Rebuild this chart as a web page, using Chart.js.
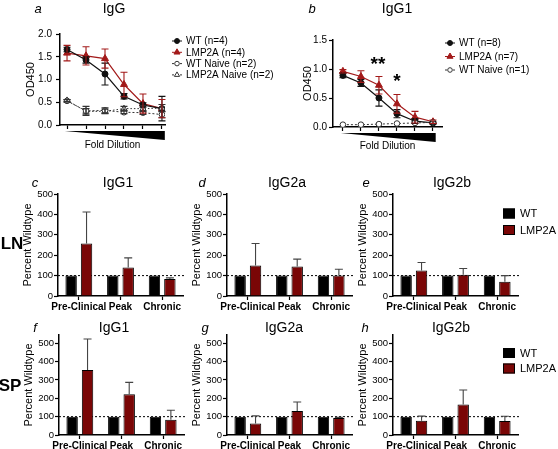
<!DOCTYPE html>
<html>
<head>
<meta charset="utf-8">
<script src="https://cdn.jsdelivr.net/npm/chart.js@4.4.1/dist/chart.umd.min.js"></script>
<style>
    body { margin: 0; background: #fff; font-family: "Liberation Sans", Arial, sans-serif; }
    #fig { position: relative; width: 558px; height: 449px; overflow: hidden; }
    #fig canvas { position: absolute; }
    .t { position: absolute; transform: translate(-50%, -50%); white-space: nowrap; color: #000; line-height: 1; }
    .letter { font-style: italic; font-size: 13px; }
    .title { font-size: 14px; }
    .tissue { font-weight: bold; font-size: 17px; }
    .star { font-size: 19px; font-weight: bold; }
</style>
</head>
<body>
<div id="fig">
    <canvas id="chart-a" width="290" height="155" style="left:0;top:0"></canvas>
    <canvas id="chart-b" width="278" height="155" style="left:280px;top:0"></canvas>
    <canvas id="chart-c" width="185" height="150" style="left:0;top:165px"></canvas>
    <canvas id="chart-d" width="185" height="150" style="left:169px;top:165px"></canvas>
    <canvas id="chart-e" width="223" height="150" style="left:335px;top:165px"></canvas>
    <canvas id="chart-f" width="185" height="134" style="left:1px;top:315px"></canvas>
    <canvas id="chart-g" width="185" height="134" style="left:169px;top:315px"></canvas>
    <canvas id="chart-h" width="223" height="134" style="left:335px;top:315px"></canvas>

    <div class="t letter" style="left:38px;top:8px">a</div>
    <div class="t title" style="left:114px;top:8px">IgG</div>
    <div class="t letter" style="left:312px;top:8px">b</div>
    <div class="t title" style="left:397px;top:8px">IgG1</div>
    <div class="t star" style="left:378px;top:63px">**</div>
    <div class="t star" style="left:397px;top:80px">*</div>

    <div class="t letter" style="left:35px;top:182px">c</div>
    <div class="t title" style="left:118px;top:182px">IgG1</div>
    <div class="t letter" style="left:202px;top:182px">d</div>
    <div class="t title" style="left:287px;top:182px">IgG2a</div>
    <div class="t letter" style="left:366px;top:182px">e</div>
    <div class="t title" style="left:452px;top:182px">IgG2b</div>
    <div class="t tissue" style="left:12px;top:243px">LN</div>

    <div class="t letter" style="left:35px;top:327px">f</div>
    <div class="t title" style="left:114px;top:327px">IgG1</div>
    <div class="t letter" style="left:205px;top:327px">g</div>
    <div class="t title" style="left:284px;top:327px">IgG2a</div>
    <div class="t letter" style="left:365px;top:327px">h</div>
    <div class="t title" style="left:451px;top:327px">IgG2b</div>
    <div class="t tissue" style="left:10px;top:385px">SP</div>
</div>

<script>
// ---- data ----
const dilutionSteps = [0, 1, 2, 3, 4, 5];
const odIgGTicks = [0, 0.5, 1, 1.5, 2];
const odIgG1Ticks = [0, 0.5, 1, 1.5];

// a. IgG
const igGWt = [1.66, 1.43, 1.12, 0.63, 0.44, 0.36];
const igGWtErr = [0.05, 0.07, 0.24, 0.06, 0.05, 0.27];
const igGLmp = [1.58, 1.52, 1.46, 0.89, 0.47, 0.36];
const igGLmpErr = [0.17, 0.2, 0.21, 0.27, 0.21, 0.2];
const igGWtNaive = [0.53, 0.31, 0.32, 0.28, 0.27, 0.23];
const igGWtNaiveErr = [0.03, 0.1, 0.06, 0.03, 0.04, 0.07];
const igGLmpNaive = [0.54, 0.30, 0.30, 0.36, 0.36, 0.37];
const igGLmpNaiveErr = [0.02, 0.06, 0.05, 0.05, 0.06, 0.08];

// b. IgG1
const igG1Wt = [0.89, 0.76, 0.50, 0.23, 0.10, 0.07];
const igG1WtErr = [0.04, 0.06, 0.14, 0.07, 0.04, 0.02];
const igG1Lmp = [0.96, 0.87, 0.72, 0.40, 0.17, 0.09];
const igG1LmpErr = [0.03, 0.1, 0.15, 0.16, 0.1, 0.03];
const igG1WtNaive = [0.04, 0.04, 0.05, 0.06, 0.07, 0.08];

// c-h. percent of wildtype
const stages = ['Pre-Clinical', 'Peak', 'Chronic'];
const percentTicks = [0, 100, 200, 300, 400, 500];
const wtPercent = [100, 100, 100];
const lnIgG1 = [257, 140, 83];
const lnIgG1Err = [155, 47, 6];
const lnIgG2a = [149, 144, 101];
const lnIgG2aErr = [108, 37, 30];
const lnIgG2b = [125, 104, 70];
const lnIgG2bErr = [39, 31, 30];
const spIgG1 = [354, 222, 83];
const spIgG1Err = [169, 65, 52];
const spIgG2a = [62, 131, 93];
const spIgG2aErr = [42, 49, 3];
const spIgG2b = [78, 166, 76];
const spIgG2bErr = [25, 79, 26];

const RED_LINE = '#a31a1a';
const RED_BAR = '#7a0606';
const FONT = 'Liberation Sans';

// error bars (both ways for line charts, upward only for bars)
const errorBarPlugin = {
    id: 'errorBars',
    afterDatasetsDraw(chart) {
        const ctx = chart.ctx;
        const yScale = chart.scales.y;
        chart.data.datasets.forEach((ds, i) => {
            if (!ds.errors) return;
            const meta = chart.getDatasetMeta(i);
            ctx.save();
            ctx.strokeStyle = ds.errorColor || ds.borderColor;
            ctx.lineWidth = 1.1;
            ctx.setLineDash([]);
            meta.data.forEach((el, j) => {
                const v = ds.data[j].y !== undefined ? ds.data[j].y : ds.data[j];
                const e = ds.errors[j];
                if (!e) return;
                const top = yScale.getPixelForValue(v + e);
                const bottom = ds.upOnly ? el.y : yScale.getPixelForValue(Math.max(v - e, 0));
                const cap = ds.upOnly ? 4 : 3.5;
                ctx.beginPath();
                ctx.moveTo(el.x, top);
                ctx.lineTo(el.x, bottom);
                ctx.moveTo(el.x - cap, top);
                ctx.lineTo(el.x + cap, top);
                if (!ds.upOnly) {
                    ctx.moveTo(el.x - cap, bottom);
                    ctx.lineTo(el.x + cap, bottom);
                }
                ctx.stroke();
            });
            ctx.restore();
        });
    }
};

// dotted 100% line
const baselinePlugin = {
    id: 'baseline',
    beforeDatasetsDraw(chart) {
        const ctx = chart.ctx;
        const y = chart.scales.y.getPixelForValue(100);
        ctx.save();
        ctx.strokeStyle = '#000';
        ctx.lineWidth = 1;
        ctx.setLineDash([2, 2]);
        ctx.beginPath();
        ctx.moveTo(chart.chartArea.left, y);
        ctx.lineTo(chart.chartArea.right + 2, y);
        ctx.stroke();
        ctx.restore();
    }
};

// black dilution wedge under the x axis
const wedgePlugin = {
    id: 'wedge',
    afterDraw(chart) {
        const ctx = chart.ctx;
        const x = chart.scales.x;
        const x0 = x.getPixelForValue(-0.12);
        const x1 = x.getPixelForValue(5.15);
        const y0 = chart.chartArea.bottom + 6;
        ctx.save();
        ctx.fillStyle = '#000';
        ctx.beginPath();
        ctx.moveTo(x0, y0);
        ctx.lineTo(x1, y0);
        ctx.lineTo(x1, y0 + 9);
        ctx.closePath();
        ctx.fill();
        ctx.restore();
    }
};

// rotated y-axis title at a fixed x on the canvas
const yTitlePlugin = {
    id: 'yTitle',
    afterDraw(chart, args, opts) {
        if (!opts.text) return;
        const ctx = chart.ctx;
        const area = chart.chartArea;
        ctx.save();
        ctx.translate(opts.x, (area.top + area.bottom) / 2);
        ctx.rotate(-Math.PI / 2);
        ctx.font = opts.size + 'px "' + FONT + '"';
        ctx.fillStyle = '#000';
        ctx.textAlign = 'center';
        ctx.textBaseline = 'middle';
        ctx.fillText(opts.text, 0, 0);
        ctx.restore();
    }
};

// legend drawn at a fixed spot on the canvas
const sideLegendPlugin = {
    id: 'sideLegend',
    afterDraw(chart, args, opts) {
        if (!opts.items) return;
        const ctx = chart.ctx;
        ctx.save();
        ctx.font = opts.fontSize + 'px "' + FONT + '"';
        ctx.textBaseline = 'middle';
        ctx.fillStyle = '#000';
        opts.items.forEach((item, i) => {
            const y = opts.y + i * opts.gap;
            const x = opts.x;
            if (item.box) {
                ctx.fillStyle = item.color;
                ctx.fillRect(x, y - 5, 12, 10);
                ctx.strokeStyle = '#000';
                ctx.lineWidth = 1;
                ctx.strokeRect(x + 0.5, y - 4.5, 11, 9);
                ctx.fillStyle = '#000';
                ctx.fillText(item.label, x + 17, y + 0.5);
                return;
            }
            ctx.strokeStyle = item.color;
            ctx.lineWidth = 1;
            ctx.setLineDash(item.dash || []);
            ctx.beginPath();
            ctx.moveTo(x, y);
            ctx.lineTo(x + 10, y);
            ctx.stroke();
            ctx.setLineDash([]);
            ctx.fillStyle = item.fill;
            ctx.strokeStyle = item.color;
            ctx.beginPath();
            if (item.pointStyle === 'circle') {
                ctx.arc(x + 5, y, item.radius, 0, Math.PI * 2);
            } else {
                const r = item.radius;
                ctx.moveTo(x + 5, y - r);
                ctx.lineTo(x + 5 + r * 0.87, y + r * 0.5);
                ctx.lineTo(x + 5 - r * 0.87, y + r * 0.5);
                ctx.closePath();
            }
            ctx.fill();
            ctx.stroke();
            ctx.fillStyle = '#000';
            ctx.fillText(item.label, x + 14, y + 0.5);
        });
        ctx.restore();
    }
};

function toPoints(values) {
    return dilutionSteps.map((x, i) => ({ x: x, y: values[i] }));
}

function lineDataset(label, values, errors, style) {
    return Object.assign({
        label: label,
        data: toPoints(values),
        errors: errors,
        borderWidth: 1.2,
        pointBorderWidth: 1,
        tension: 0,
        fill: false
    }, style);
}

const wtStyle = { borderColor: '#111', backgroundColor: '#111', pointStyle: 'circle', pointRadius: 3 };
const lmpStyle = { borderColor: RED_LINE, backgroundColor: RED_LINE, pointStyle: 'triangle', pointRadius: 4 };
const wtNaiveStyle = { borderColor: '#333', backgroundColor: '#fff', pointStyle: 'circle', pointRadius: 2.8, borderDash: [2, 2], borderWidth: 1 };
const lmpNaiveStyle = { borderColor: '#333', backgroundColor: '#fff', pointStyle: 'triangle', pointRadius: 3.5, borderDash: [1.5, 2], borderWidth: 1 };

function makeLineChart(id, cfg) {
    const ctx = document.getElementById(id).getContext('2d');
    return new Chart(ctx, {
        type: 'line',
        data: { datasets: cfg.datasets },
        plugins: [errorBarPlugin, wedgePlugin, sideLegendPlugin, yTitlePlugin],
        options: {
            responsive: false,
            animation: false,
            layout: { padding: cfg.padding },
            plugins: {
                legend: { display: false },
                tooltip: { enabled: false },
                sideLegend: cfg.legend,
                yTitle: { text: 'OD450', x: cfg.yTitleX, size: 11 }
            },
            scales: {
                x: {
                    type: 'linear',
                    min: cfg.xMin,
                    max: cfg.xMax,
                    afterBuildTicks: s => { s.ticks = dilutionSteps.map(v => ({ value: v })); },
                    afterFit: s => { s.height = cfg.xHeight; },
                    ticks: { display: false },
                    grid: { drawOnChartArea: false, tickLength: 4, tickColor: '#000', tickWidth: 1.2 },
                    border: { color: '#000', width: 1.5 },
                    title: {
                        display: true, text: 'Fold Dilution', color: '#000',
                        font: { family: FONT, size: 10 }, padding: { top: 0, bottom: cfg.xTitlePad }
                    }
                },
                y: {
                    min: 0,
                    max: cfg.yTicks[cfg.yTicks.length - 1],
                    afterBuildTicks: s => { s.ticks = cfg.yTicks.map(v => ({ value: v })); },
                    afterFit: s => { s.width = cfg.yWidth; },
                    ticks: { color: '#000', padding: cfg.yTickPad, font: { family: FONT, size: 10 }, callback: v => v.toFixed(1) },
                    grid: { drawOnChartArea: false, tickLength: 4, tickColor: '#000', tickWidth: 1.2 },
                    border: { color: '#000', width: 1.5 }
                }
            }
        }
    });
}

// a. IgG
makeLineChart('chart-a', {
    padding: { left: 0, top: 34, right: 125, bottom: 0 },
    xMin: -0.37, xMax: 5.16, xHeight: 30, xTitlePad: 4,
    yWidth: 60, yTitleX: 31, yTickPad: 4, yTicks: odIgGTicks,
    datasets: [
        lineDataset('WT Naive (n=2)', igGWtNaive, igGWtNaiveErr, wtNaiveStyle),
        lineDataset('LMP2A Naive (n=2)', igGLmpNaive, igGLmpNaiveErr, lmpNaiveStyle),
        lineDataset('WT (n=4)', igGWt, igGWtErr, wtStyle),
        lineDataset('LMP2A (n=4)', igGLmp, igGLmpErr, lmpStyle)
    ],
    legend: {
        x: 172, y: 41, gap: 11.3, fontSize: 10,
        items: [
            { label: 'WT (n=4)', color: '#111', fill: '#111', pointStyle: 'circle', radius: 2.5 },
            { label: 'LMP2A (n=4)', color: RED_LINE, fill: RED_LINE, pointStyle: 'triangle', radius: 3.5 },
            { label: 'WT Naive (n=2)', color: '#333', fill: '#fff', pointStyle: 'circle', radius: 2.3, dash: [2, 2] },
            { label: 'LMP2A Naive (n=2)', color: '#333', fill: '#fff', pointStyle: 'triangle', radius: 3, dash: [2, 2] }
        ]
    }
});

// b. IgG1
makeLineChart('chart-b', {
    padding: { left: 0, top: 40, right: 116, bottom: 0 },
    xMin: -0.55, xMax: 5.5, xHeight: 28, xTitlePad: 3,
    yWidth: 53, yTitleX: 28, yTickPad: 2, yTicks: odIgG1Ticks,
    datasets: [
        lineDataset('WT Naive (n=1)', igG1WtNaive, null, wtNaiveStyle),
        lineDataset('WT (n=8)', igG1Wt, igG1WtErr, wtStyle),
        lineDataset('LMP2A (n=7)', igG1Lmp, igG1LmpErr, lmpStyle)
    ],
    legend: {
        x: 165, y: 43, gap: 13.5, fontSize: 10,
        items: [
            { label: 'WT (n=8)', color: '#111', fill: '#111', pointStyle: 'circle', radius: 2.5 },
            { label: 'LMP2A (n=7)', color: RED_LINE, fill: RED_LINE, pointStyle: 'triangle', radius: 3.5 },
            { label: 'WT Naive (n=1)', color: '#333', fill: '#fff', pointStyle: 'circle', radius: 2.3, dash: [2, 2] }
        ]
    }
});

function makeBarChart(id, cfg) {
    const ctx = document.getElementById(id).getContext('2d');
    return new Chart(ctx, {
        type: 'bar',
        data: {
            labels: stages,
            datasets: [{
                label: 'WT',
                data: wtPercent,
                backgroundColor: '#000',
                borderColor: '#000',
                borderWidth: 1
            }, {
                label: 'LMP2A',
                data: cfg.values,
                errors: cfg.errors,
                upOnly: true,
                errorColor: '#444',
                backgroundColor: RED_BAR,
                borderColor: '#000',
                borderWidth: 1
            }]
        },
        plugins: [baselinePlugin, errorBarPlugin, sideLegendPlugin, yTitlePlugin],
        options: {
            responsive: false,
            animation: false,
            barPercentage: 0.74,
            categoryPercentage: 0.74,
            layout: { padding: { left: 0, top: cfg.top, right: cfg.right, bottom: 0 } },
            plugins: {
                legend: { display: false },
                tooltip: { enabled: false },
                sideLegend: cfg.legend || {},
                yTitle: { text: 'Percent Wildtype', x: 28, size: 11 }
            },
            scales: {
                x: {
                    afterFit: s => { s.height = cfg.xHeight; },
                    ticks: { color: '#000', padding: 1, maxRotation: 0, autoSkip: false, font: { family: FONT, size: 10, weight: 'bold' } },
                    grid: { offset: false, drawOnChartArea: false, tickLength: 4, tickColor: '#000', tickWidth: 1.2 },
                    border: { color: '#000', width: 1.5 }
                },
                y: {
                    min: 0,
                    max: cfg.yMax,
                    afterBuildTicks: s => { s.ticks = percentTicks.map(v => ({ value: v })); },
                    afterFit: s => { s.width = 58; },
                    ticks: { color: '#000', padding: 1, font: { family: FONT, size: 9.5 } },
                    grid: { drawOnChartArea: false, tickLength: 4, tickColor: '#000', tickWidth: 1.2 },
                    border: { color: '#000', width: 1.5 }
                }
            }
        }
    });
}

const barLegendItems = [
    { box: true, label: 'WT', color: '#000' },
    { box: true, label: 'LMP2A', color: RED_BAR }
];

// LN row
makeBarChart('chart-c', { values: lnIgG1, errors: lnIgG1Err, top: 29, right: 2, xHeight: 19, yMax: 500 });
makeBarChart('chart-d', { values: lnIgG2a, errors: lnIgG2aErr, top: 29, right: 2, xHeight: 19, yMax: 500 });
makeBarChart('chart-e', {
    values: lnIgG2b, errors: lnIgG2bErr, top: 29, right: 40, xHeight: 19, yMax: 500,
    legend: { x: 168, y: 48.5, gap: 16.5, fontSize: 11, items: barLegendItems }
});

// SP row
makeBarChart('chart-f', { values: spIgG1, errors: spIgG1Err, top: 20, right: 2, xHeight: 14, yMax: 545 });
makeBarChart('chart-g', { values: spIgG2a, errors: spIgG2aErr, top: 20, right: 2, xHeight: 14, yMax: 545 });
makeBarChart('chart-h', {
    values: spIgG2b, errors: spIgG2bErr, top: 20, right: 40, xHeight: 14, yMax: 545,
    legend: { x: 168, y: 38, gap: 15.5, fontSize: 11, items: barLegendItems }
});
</script>
</body>
</html>
